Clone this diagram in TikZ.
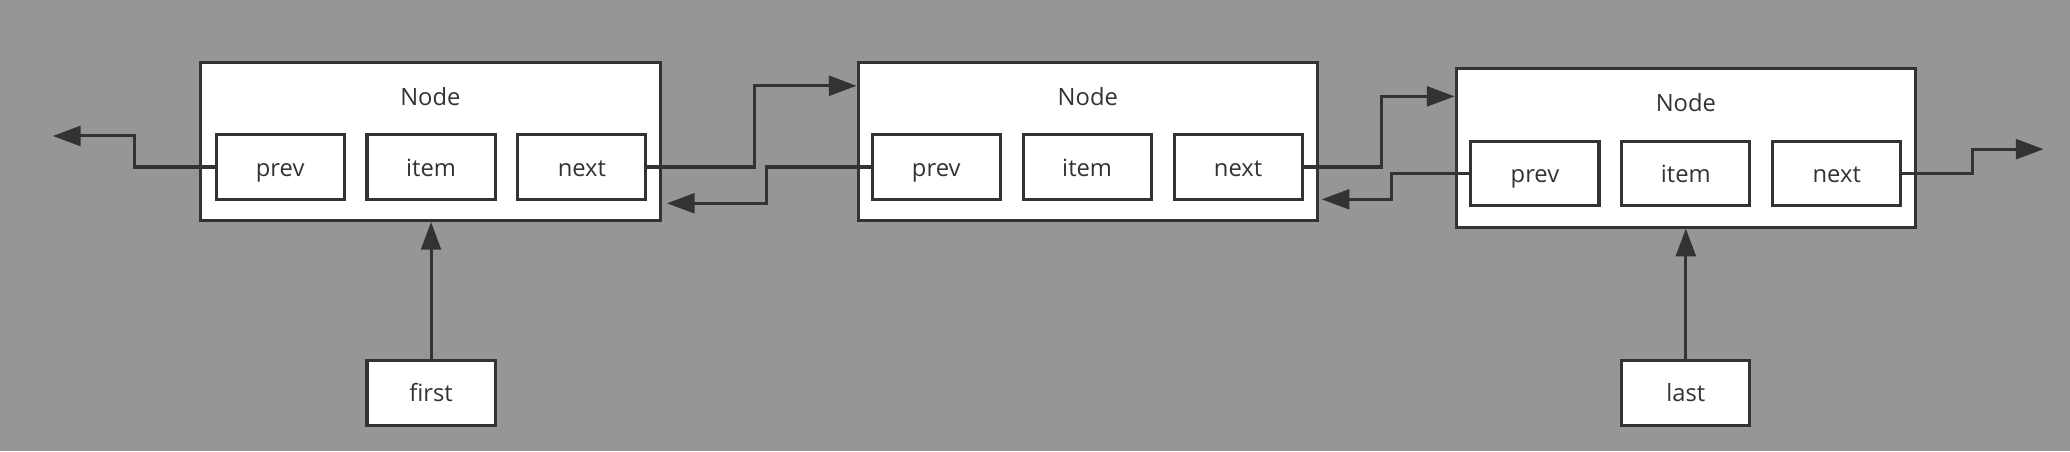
\documentclass[tikz,border=0pt]{standalone}
\usepackage{fontspec}
\setmainfont{Open Sans}
\usetikzlibrary{positioning,arrows.meta}
\definecolor{bg}{RGB}{150,150,150}
\definecolor{ink}{RGB}{51,51,51}
\tikzset{
  frame/.style={draw=ink,fill=white,line width=2.3pt,minimum width=348pt,minimum height=120pt},
  field/.style={draw=ink,fill=white,line width=2.3pt,minimum width=97pt,minimum height=49pt,inner sep=0pt,text height=17pt,text depth=3pt},
  link/.style={draw=ink,line width=2.3pt,-{Triangle[length=21pt,width=15pt]}},
}
\begin{document}
\begin{tikzpicture}[x=1pt,y=-1pt,font=\fontsize{18}{22}\selectfont,text=ink]
\fill[bg](0,0)rectangle(1568,342);
\useasboundingbox(0,0)rectangle(1568,342);
\node[frame](n1)at(326,107){};
\node[frame](n2)at(824,107){};
\node[frame](n3)at(1277,112){};
\node(t1)at(326,73){Node};
\node(t2)at(824,73){Node};
\node(t3)at(1277,78){Node};
\node[field](i1)at(326.5,126.5){item};
\node[field,left=15pt of i1](p1){prev};
\node[field,right=15pt of i1](x1){next};
\node[field](i2)at(823.5,126.5){item};
\node[field,left=15pt of i2](p2){prev};
\node[field,right=15pt of i2](x2){next};
\node[field](i3)at(1277,131.5){item};
\node[field,left=15pt of i3](p3){prev};
\node[field,right=15pt of i3](x3){next};
\node[field](first)at(326.5,297.5){first};
\node[field](last)at(1277,297.5){last};
\coordinate(e0)at(40,103);
\coordinate(e1)at(1548,113);
\draw[link](p1.west)--++(-61,0)|-(e0);
\draw[link](x1.east)--++(81,0)|-([yshift=42pt]n2.west);
\draw[link,shorten >=4pt](p2.west)--++(-79,0)|-([yshift=-47pt]n1.east);
\draw[link](x2.east)--++(59,0)|-([yshift=39pt]n3.west);
\draw[link,shorten >=2pt](p3.west)--++(-59,0)|-([yshift=-44pt]n2.east);
\draw[link](x3.east)--++(53,0)|-(e1);
\draw[link](first.north)--(first.north|-n1.south);
\draw[link](last.north)--(last.north|-n3.south);
\end{tikzpicture}
\end{document}
